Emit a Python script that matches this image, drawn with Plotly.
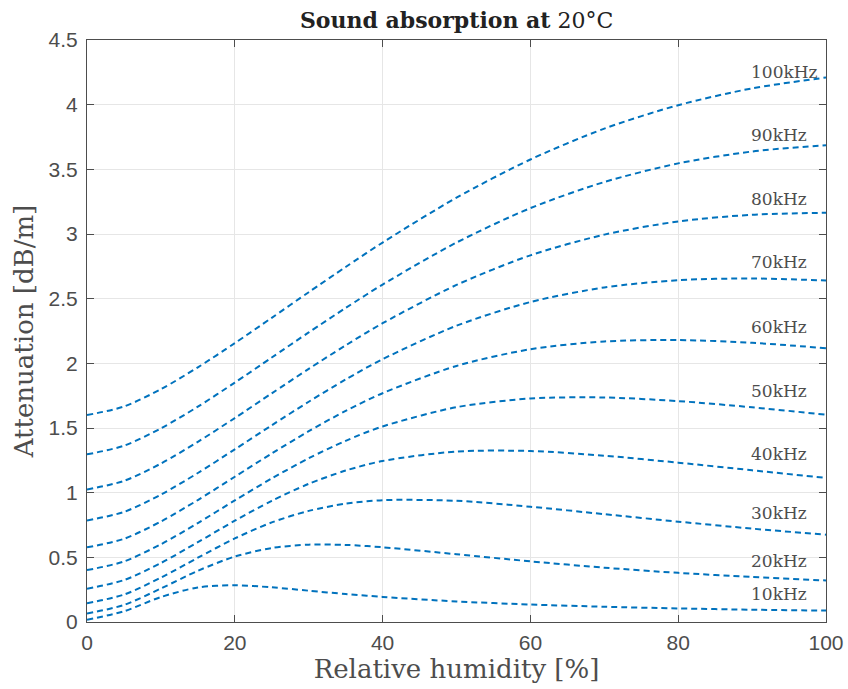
import plotly.graph_objects as go

# Relative humidity [%] sample points
humidity = [0, 5, 10, 15, 20, 25, 30, 35, 40, 50, 60, 70, 80, 90, 100]

freq_labels = ["10kHz", "20kHz", "30kHz", "40kHz", "50kHz",
               "60kHz", "70kHz", "80kHz", "90kHz", "100kHz"]

# Attenuation [dB/m]
att_10k = [0.017, 0.083, 0.193, 0.267, 0.284, 0.268, 0.242, 0.216, 0.194, 0.159, 0.135, 0.118, 0.105, 0.095, 0.088]
att_20k = [0.065, 0.132, 0.259, 0.396, 0.506, 0.572, 0.598, 0.596, 0.578, 0.524, 0.469, 0.420, 0.380, 0.348, 0.321]
att_30k = [0.145, 0.212, 0.343, 0.497, 0.646, 0.770, 0.859, 0.915, 0.942, 0.937, 0.891, 0.834, 0.776, 0.722, 0.675]
att_40k = [0.257, 0.324, 0.456, 0.617, 0.783, 0.937, 1.068, 1.171, 1.245, 1.318, 1.322, 1.286, 1.232, 1.173, 1.114]
att_50k = [0.401, 0.468, 0.601, 0.765, 0.940, 1.110, 1.266, 1.401, 1.512, 1.661, 1.728, 1.736, 1.708, 1.660, 1.603]
att_60k = [0.577, 0.643, 0.777, 0.943, 1.123, 1.303, 1.475, 1.632, 1.769, 1.980, 2.109, 2.169, 2.180, 2.159, 2.117]
att_70k = [0.785, 0.851, 0.985, 1.152, 1.335, 1.521, 1.703, 1.875, 2.032, 2.291, 2.474, 2.587, 2.643, 2.656, 2.640]
att_80k = [1.024, 1.091, 1.225, 1.393, 1.577, 1.768, 1.957, 2.139, 2.310, 2.606, 2.835, 2.995, 3.097, 3.149, 3.164]
att_90k = [1.296, 1.363, 1.497, 1.665, 1.851, 2.045, 2.239, 2.428, 2.609, 2.934, 3.200, 3.402, 3.546, 3.638, 3.687]
att_100k = [1.600, 1.666, 1.800, 1.969, 2.156, 2.352, 2.550, 2.745, 2.934, 3.281, 3.576, 3.815, 3.996, 4.126, 4.210]

series = [att_10k, att_20k, att_30k, att_40k, att_50k,
          att_60k, att_70k, att_80k, att_90k, att_100k]

x_ticks = [0, 20, 40, 60, 80, 100]
y_ticks = [0, 0.5, 1, 1.5, 2, 2.5, 3, 3.5, 4, 4.5]
y_ticktext = ["0", "0.5", "1", "1.5", "2", "2.5", "3", "3.5", "4", "4.5"]

LINE_COLOR = "#0072BD"
AXIS_COLOR = "#4d4d4d"
TEXT_COLOR = "#4d4d4d"
SERIF = "DejaVu Serif"
SANS = "Liberation Sans, Arial, sans-serif"

fig = go.Figure()
for name, vals in zip(freq_labels, series):
    fig.add_trace(go.Scatter(
        x=humidity, y=vals, mode="lines", name=name,
        line=dict(color=LINE_COLOR, width=2, dash="6px,4px", shape="spline", smoothing=0.8),
        showlegend=False, hoverinfo="skip"))

label_idx = humidity.index(90)
for name, vals in zip(freq_labels, series):
    fig.add_annotation(
        x=humidity[label_idx], y=vals[label_idx], text=name,
        showarrow=False, xanchor="left", yanchor="bottom", yshift=4, xshift=-3,
        font=dict(family=SERIF, size=17, color=TEXT_COLOR))

axis_common = dict(
    showline=True, linecolor=AXIS_COLOR, linewidth=1, mirror="ticks",
    ticks="inside", ticklen=7, tickwidth=1, tickcolor=AXIS_COLOR,
    showgrid=True, gridcolor="#e6e6e6", gridwidth=1, zeroline=False,
    tickfont=dict(family=SANS, size=21, color=TEXT_COLOR),
)

fig.update_xaxes(range=[0, 100], tickvals=x_ticks, ticklabelstandoff=2,
                 title=dict(text="Relative humidity [%]",
                            font=dict(family=SERIF, size=26, color=TEXT_COLOR), standoff=2),
                 **axis_common)
fig.update_yaxes(range=[0, 4.5], tickvals=y_ticks, ticktext=y_ticktext, ticklabelstandoff=4,
                 title=dict(text="Attenuation [dB/m]",
                            font=dict(family=SERIF, size=26, color=TEXT_COLOR), standoff=7),
                 **axis_common)

fig.update_layout(
    width=848, height=689,
    margin=dict(l=87, r=22, t=40, b=67, autoexpand=False),
    paper_bgcolor="white", plot_bgcolor="white",
    title=dict(text="<b>Sound absorption at</b> 20°C", x=0.5385, xanchor="center",
               y=0.971, yanchor="middle",
               font=dict(family=SERIF, size=22, color="#222222")),
)

fig.write_html("out.html")
